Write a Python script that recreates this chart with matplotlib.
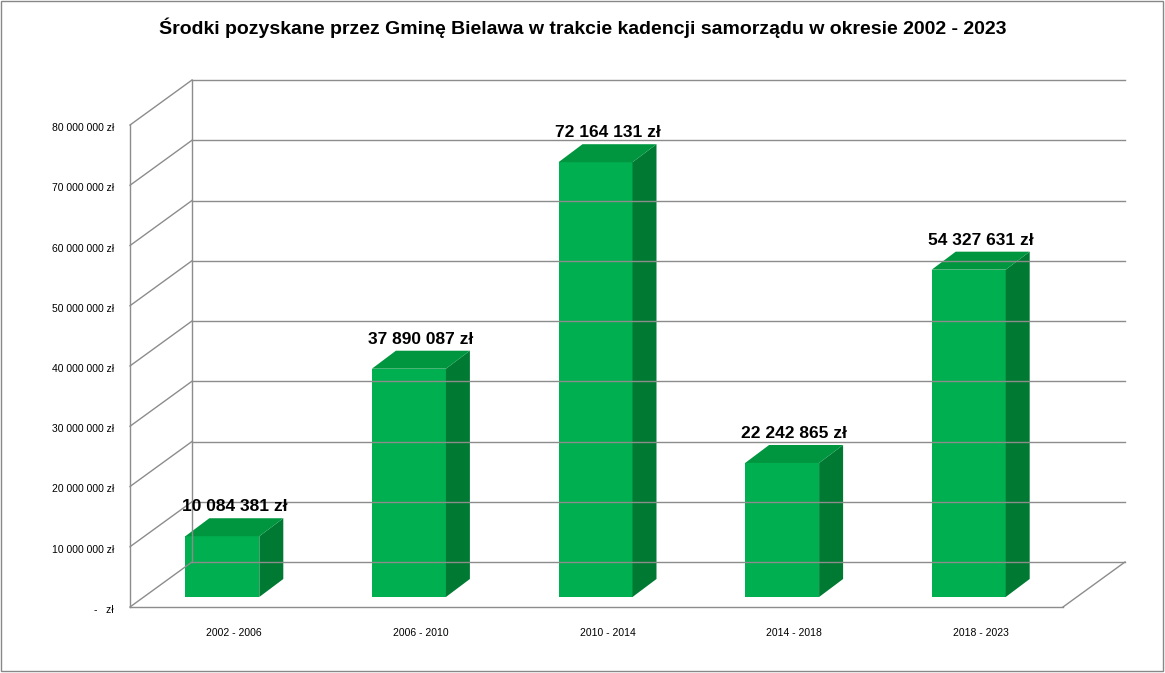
import matplotlib
matplotlib.use("Agg")
import matplotlib.pyplot as plt
from matplotlib.patches import Polygon, Rectangle

# Data
categories = ["2002 - 2006", "2006 - 2010", "2010 - 2014", "2014 - 2018", "2018 - 2023"]
values = [10084381, 37890087, 72164131, 22242865, 54327631]
value_labels = ["10 084 381 zł", "37 890 087 zł", "72 164 131 zł", "22 242 865 zł", "54 327 631 zł"]
tick_values = [0, 10e6, 20e6, 30e6, 40e6, 50e6, 60e6, 70e6, 80e6]
tick_labels = ["-   zł", "10 000 000 zł", "20 000 000 zł", "30 000 000 zł", "40 000 000 zł",
               "50 000 000 zł", "60 000 000 zł", "70 000 000 zł", "80 000 000 zł"]
title = "Środki pozyskane przez Gminę Bielawa w trakcie kadencji samorządu w okresie 2002 - 2023"

FRONT = "#00B050"
SIDE = "#007A33"
TOP = "#00963F"
GRID = "#8C8C8C"
FONT = "Liberation Sans"

W, H = 1165, 673
fig = plt.figure(figsize=(W / 100, H / 100), dpi=100)
ax = fig.add_axes([0, 0, 1, 1])
ax.set_xlim(0, W)
ax.set_ylim(H, 0)
ax.axis("off")

# Pixel layout of the pseudo-3D plot box
X0, X1 = 130, 1063          # front floor edge
Y0 = 607                    # front floor line (value 0)
PX_PER_UNIT = 60.25 / 10e6  # pixels per zł
DX, DY = 62, -45            # depth offset of back wall


def ypix(v, base=Y0):
    return base - v * PX_PER_UNIT


# back wall gridlines and side wall lines
for v in tick_values:
    yf = ypix(v)
    ax.plot([X0, X0 + DX], [yf, yf + DY], color=GRID, lw=1)
    ax.plot([X0 + DX, X1 + DX], [yf + DY, yf + DY], color=GRID, lw=1)
ax.plot([X0, X0], [ypix(0), ypix(80e6)], color=GRID, lw=1)
ax.plot([X0 + DX, X0 + DX], [ypix(0) + DY, ypix(80e6) + DY], color=GRID, lw=1)
# floor
ax.plot([X0, X1], [Y0, Y0], color=GRID, lw=1)
ax.plot([X1, X1 + DX], [Y0, Y0 + DY], color=GRID, lw=1)

# y tick labels
for v, lab in zip(tick_values, tick_labels):
    ax.text(X0 - 16, ypix(v) + 3, lab, fontsize=7.5, ha="right", va="center", family=FONT)

# bars
slot = (X1 - X0) / len(categories)
bar_w = 74
bdx, bdy = 24, -18
bar_base = Y0 - 10
for i, (v, lab, cat) in enumerate(zip(values, value_labels, categories)):
    cx = X0 + slot * (i + 0.5) - 1
    xl = cx - bar_w / 2
    xr = cx + bar_w / 2
    yt = ypix(v, bar_base)
    ax.add_patch(Rectangle((xl, yt), bar_w, bar_base - yt, facecolor=FRONT, edgecolor="none"))
    ax.add_patch(Polygon([(xr, bar_base), (xr + bdx, bar_base + bdy), (xr + bdx, yt + bdy), (xr, yt)],
                         facecolor=SIDE, edgecolor="none"))
    ax.add_patch(Polygon([(xl, yt), (xr, yt), (xr + bdx, yt + bdy), (xl + bdx, yt + bdy)],
                         facecolor=TOP, edgecolor="none"))
    ax.text(cx + bdx / 2, yt + bdy - 4, lab, fontsize=12.5, fontweight="bold",
            ha="center", va="bottom", family=FONT)
    ax.text(cx + 12, 633, cat, fontsize=7.5, ha="center", va="center", family=FONT)

ax.text(W / 2, 28, title, fontsize=14, fontweight="bold", ha="center", va="center", family=FONT)

# outer border
ax.add_patch(Rectangle((1, 1), W - 3, H - 3, facecolor="none", edgecolor="#888888", lw=1))

fig.savefig("out.png", dpi=100)
